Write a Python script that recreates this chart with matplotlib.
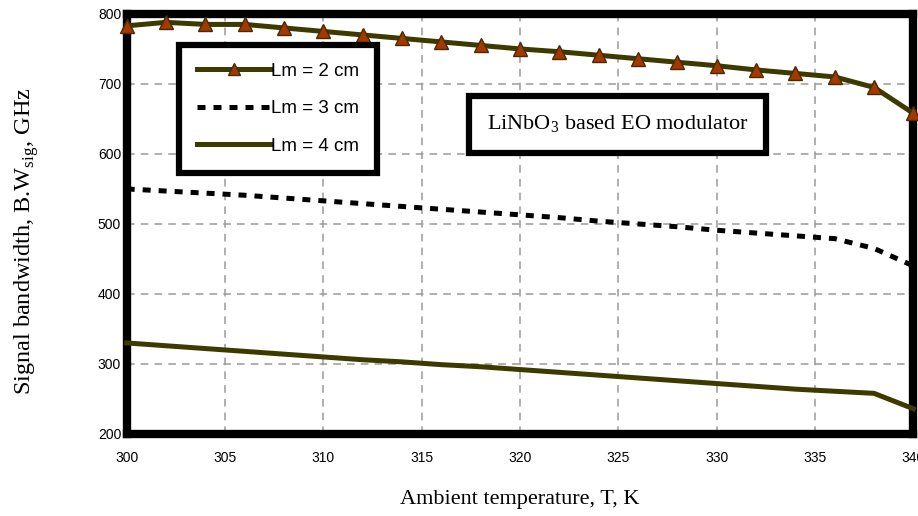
import matplotlib
matplotlib.use("Agg")
import matplotlib.pyplot as plt
from matplotlib.lines import Line2D

temps = [300, 302, 304, 306, 308, 310, 312, 314, 316, 318, 320,
         322, 324, 326, 328, 330, 332, 334, 336, 338, 340]
bw_lm2 = [783, 788, 785, 785, 780, 775, 770, 765, 760, 755, 750,
          746, 741, 736, 731, 726, 720, 715, 710, 695, 658]
bw_lm3 = [550, 547, 544, 541, 537, 533, 529, 525, 521, 517, 513,
          509, 504, 500, 496, 491, 487, 483, 479, 465, 440]
bw_lm4 = [330, 326, 322, 318, 314, 310, 306, 303, 299, 296, 292,
          288, 284, 280, 276, 272, 268, 264, 261, 258, 236]
labels = ["Lm = 2 cm", "Lm = 3 cm", "Lm = 4 cm"]
xticks = [300, 305, 310, 315, 320, 325, 330, 335, 340]
yticks = [200, 300, 400, 500, 600, 700, 800]

line_c = "#3d3a00"
mark_c = "#a33800"
tick_font = ["Liberation Sans", "DejaVu Sans"]
serif = ["Liberation Serif", "DejaVu Serif"]

fig = plt.figure(figsize=(9.18, 5.16), dpi=100)
ax = fig.add_axes([0.138, 0.159, 0.857, 0.814])

ax.plot(temps, bw_lm2, color=line_c, lw=3.6, marker="^", ms=10,
        markerfacecolor=mark_c, markeredgecolor="#4a2a00", markeredgewidth=1,
        clip_on=False, zorder=5)
ax.plot(temps, bw_lm3, color="black", lw=3.6, linestyle=(0, (1.6, 1.6)),
        clip_on=False, zorder=4)
ax.plot(temps, bw_lm4, color=line_c, lw=3.6, clip_on=False, zorder=4)

ax.set_xlim(300, 340)
ax.set_ylim(200, 800)
ax.set_xticks(xticks)
ax.set_yticks(yticks)
ax.grid(True, color="#9a9a9a", linestyle=(0, (5, 4)), lw=1.1)
ax.tick_params(length=0, pad=12, labelsize=10)
ax.tick_params(axis="y", pad=4)
for lab in ax.get_xticklabels() + ax.get_yticklabels():
    lab.set_family(tick_font)
for s in ax.spines.values():
    s.set_linewidth(6)
    s.set_color("black")

ax.set_xlabel("Ambient temperature, T, K", family=serif, fontsize=16, labelpad=18)
ax.set_ylabel("Signal bandwidth, B.W$_{\\mathregular{sig}}$, GHz", family=serif,
              fontsize=17.5, va="center")
ax.yaxis.set_label_coords(-0.127, 0.46)

handles = [
    Line2D([], [], color=line_c, lw=3.6, marker="^", ms=9,
           markerfacecolor=mark_c, markeredgecolor="#4a2a00", markevery=[1]),
    Line2D([], [], color="black", lw=3.6, linestyle=(0, (1.6, 1.6))),
    Line2D([], [], color=line_c, lw=3.6),
]
leg = ax.legend(handles, labels, loc="upper left", bbox_to_anchor=(0.067, 0.927),
                prop={"family": ["Liberation Sans", "DejaVu Sans"], "size": 13.5},
                handlelength=3.9, handletextpad=0.05, labelspacing=1.1,
                borderpad=0.95, borderaxespad=0, fancybox=False, framealpha=1,
                edgecolor="black")
leg.get_frame().set_linewidth(4.5)

ax.text(0.624, 0.737, "LiNbO$_\\mathregular{3}$ based EO modulator",
        transform=ax.transAxes, ha="center", va="center",
        family=serif, fontsize=16,
        bbox=dict(boxstyle="square,pad=0.8", facecolor="white",
                  edgecolor="black", linewidth=4.5), zorder=6)

fig.savefig("out.png", dpi=100)
